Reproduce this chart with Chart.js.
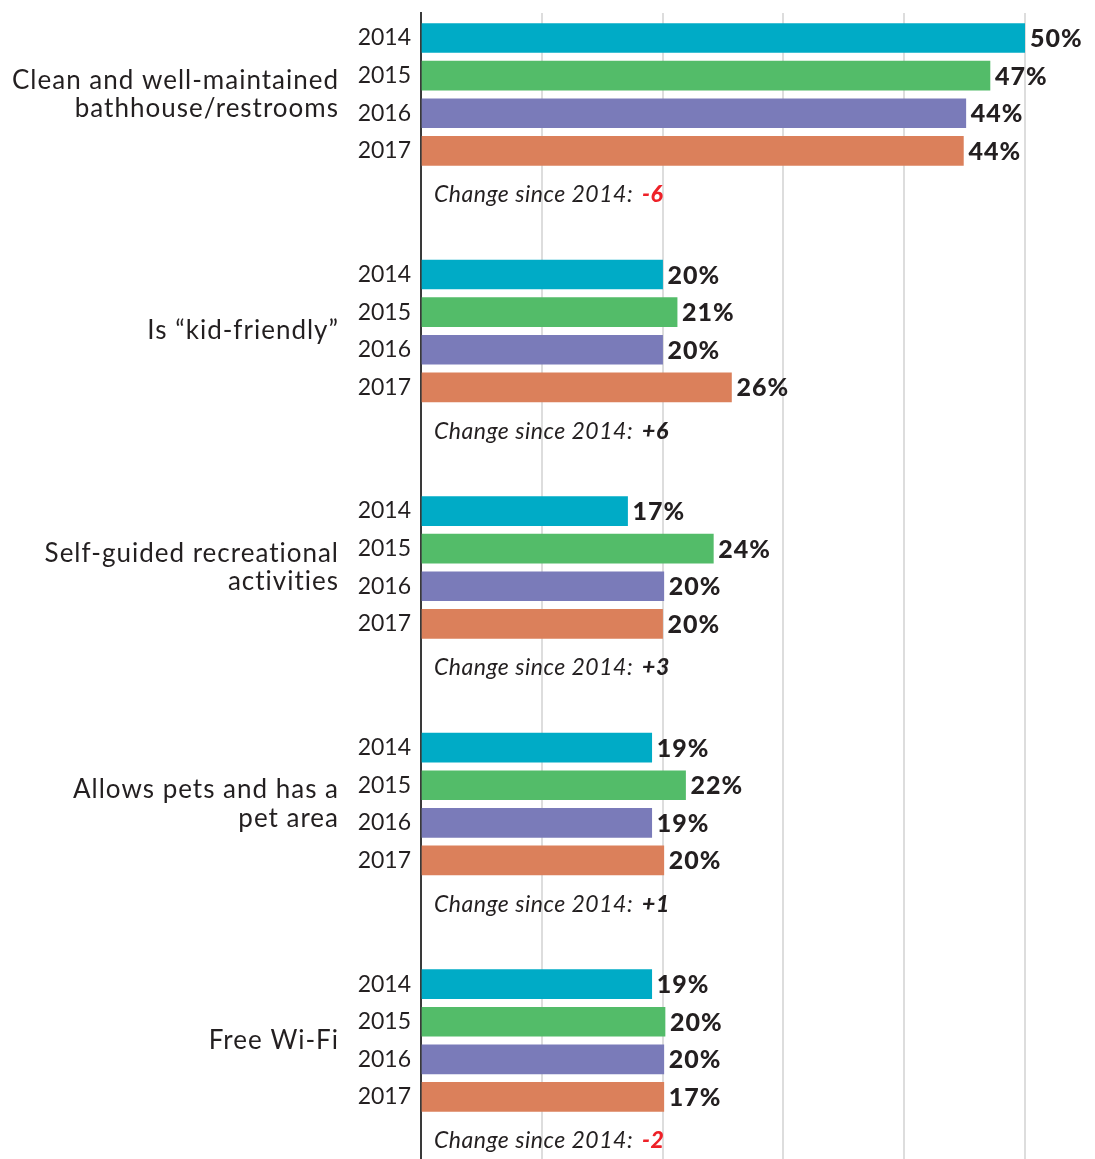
<!DOCTYPE html>
<html>
<head>
<meta charset="utf-8">
<script src="https://cdn.jsdelivr.net/npm/chart.js@4.4.1/dist/chart.umd.min.js"></script>
<style>
  html, body { margin: 0; padding: 0; background: #fff; }
  #wrap { width: 1095px; height: 1159px; position: relative; }
</style>
</head>
<body>
<div id="wrap"><canvas id="grafico"></canvas></div>
<script>
const categorias = [
    ['Clean and well-maintained', 'bathhouse/restrooms'],
    ['Is \u201ckid-friendly\u201d'],
    ['Self-guided recreational', 'activities'],
    ['Allows pets and has a', 'pet area'],
    ['Free Wi-Fi']
];
const anos = ['2014', '2015', '2016', '2017'];
const cores = ['#00abc6', '#53bc69', '#7a7bb9', '#db805b'];

// bar lengths as drawn
const valores2014 = [50, 20, 17.1, 19.1, 19.1];
const valores2015 = [47.1, 21.2, 24.2, 21.9, 20.2];
const valores2016 = [45.1, 20, 20.1, 19.1, 20.1];
const valores2017 = [44.9, 25.7, 20, 20.1, 20.1];

// percentages as printed
const rotulos2014 = [50, 20, 17, 19, 19];
const rotulos2015 = [47, 21, 24, 22, 20];
const rotulos2016 = [44, 20, 20, 19, 20];
const rotulos2017 = [44, 26, 20, 20, 17];

const valores = [valores2014, valores2015, valores2016, valores2017];
const rotulos = [rotulos2014, rotulos2015, rotulos2016, rotulos2017];

const passoGrupo = 6.29;
const posicao = (g, i) => g * passoGrupo + i;

const fonte = 'Lato, "Noto Sans", sans-serif';
const corTexto = '#231f20';

const posicoesTicks = [];
categorias.forEach((c, g) => anos.forEach((a, i) => posicoesTicks.push(posicao(g, i))));

const datasets = anos.map((ano, i) => ({
    label: ano,
    data: categorias.map((c, g) => ({ x: valores[i][g], y: posicao(g, i) })),
    backgroundColor: cores[i],
    barThickness: 29,
    grouped: false
}));

const textosPlugin = {
    id: 'textos',
    afterDatasetsDraw(chart) {
        const ctx = chart.ctx;
        const xs = chart.scales.x;
        const ys = chart.scales.y;
        ctx.save();
        ctx.textBaseline = 'middle';

        // value labels
        ctx.font = '900 25px ' + fonte;
        ctx.letterSpacing = '1px';
        ctx.fillStyle = corTexto;
        ctx.textAlign = 'left';
        anos.forEach((ano, i) => {
            categorias.forEach((c, g) => {
                const x = xs.getPixelForValue(valores[i][g]) + 5;
                const y = ys.getPixelForValue(posicao(g, i));
                ctx.fillText(rotulos[i][g] + '%', x, y + 1);
            });
        });

        // category names
        ctx.font = '26px ' + fonte;
        ctx.letterSpacing = '1px';
        ctx.textAlign = 'right';
        categorias.forEach((linhas, g) => {
            const meio = ys.getPixelForValue(posicao(g, 1.5));
            const alt = 28.5;
            linhas.forEach((linha, k) => {
                ctx.fillText(linha, 339, meio + (k - (linhas.length - 1) / 2) * alt);
            });
        });

        // change since 2014
        ctx.textAlign = 'left';
        ctx.letterSpacing = '0.5px';
        categorias.forEach((c, g) => {
            const y = ys.getPixelForValue(posicao(g, 4.17));
            const x0 = xs.left + 13;
            ctx.font = 'italic 23px ' + fonte;
            ctx.fillStyle = corTexto;
            const txt = 'Change since 2014:';
            ctx.fillText(txt, x0, y);
            const diff = rotulos2017[g] - rotulos2014[g];
            const w = ctx.measureText(txt).width;
            ctx.font = 'italic 900 23px ' + fonte;
            ctx.fillStyle = diff < 0 ? '#ee2128' : corTexto;
            ctx.fillText((diff < 0 ? '-' : '+') + Math.abs(diff), x0 + w + 9, y);
        });
        ctx.restore();
    }
};

document.addEventListener('DOMContentLoaded', function() {
    const ctx = document.getElementById('grafico').getContext('2d');
    new Chart(ctx, {
        type: 'bar',
        data: { datasets: datasets },
        options: {
            indexAxis: 'y',
            responsive: true,
            maintainAspectRatio: false,
            animation: false,
            layout: { padding: { top: 13, right: 70, bottom: 0, left: 0 } },
            plugins: { legend: { display: false }, tooltip: { enabled: false } },
            scales: {
                x: {
                    type: 'linear',
                    min: 0,
                    max: 50,
                    ticks: { display: false, stepSize: 10 },
                    grid: { color: '#dddddd', lineWidth: 2, drawTicks: false, tickLength: 0 },
                    border: { display: false },
                    afterFit(scale) {
                        scale.height = 0;
                        scale.paddingLeft = 0;
                        scale.paddingRight = 0;
                    }
                },
                y: {
                    type: 'linear',
                    reverse: true,
                    offset: false,
                    min: -0.665,
                    max: 29.81,
                    afterBuildTicks(scale) {
                        scale.ticks = posicoesTicks.map(v => ({ value: v }));
                    },
                    afterFit(scale) {
                        scale.width = 421;
                        scale.paddingTop = 0;
                        scale.paddingBottom = 0;
                    },
                    ticks: {
                        autoSkip: false,
                        padding: 10,
                        color: corTexto,
                        font: { family: fonte, size: 23 },
                        callback: function(value, index) {
                            return anos[index % 4];
                        }
                    },
                    grid: { display: false, drawTicks: false, offset: false },
                    border: { display: true, color: '#3a3a3a', width: 2 }
                }
            }
        },
        plugins: [textosPlugin]
    });
});
</script>
</body>
</html>
